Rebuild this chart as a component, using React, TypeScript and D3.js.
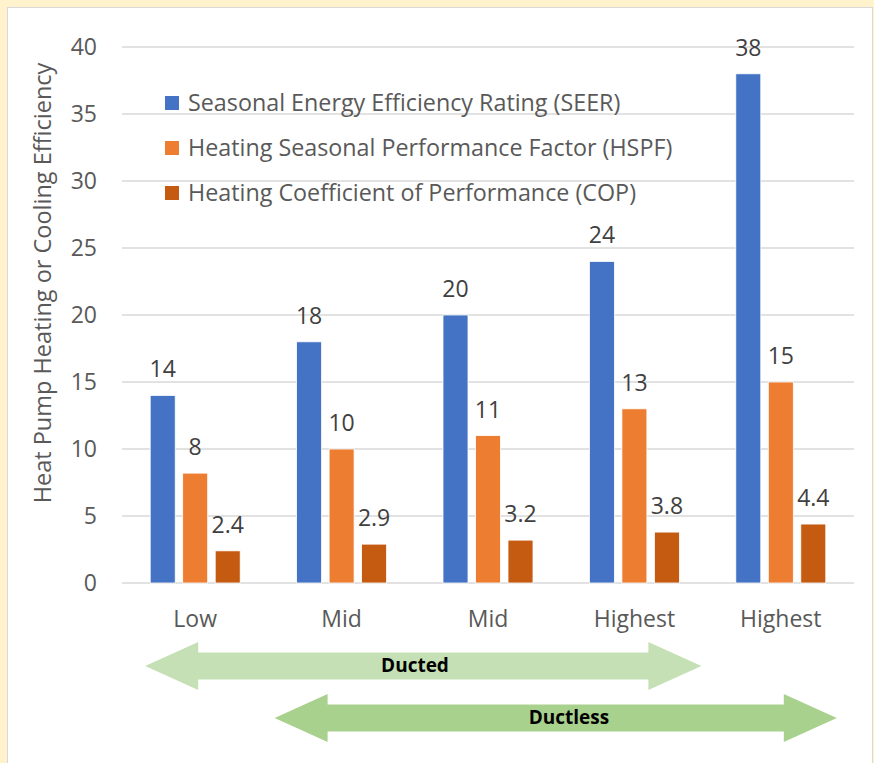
import React from "react";
import * as d3 from "d3";

const categories = ["Low", "Mid", "Mid", "Highest", "Highest"];
const seriesNames = [
  "Seasonal Energy Efficiency Rating (SEER)",
  "Heating Seasonal Performance Factor (HSPF)",
  "Heating Coefficient of Performance (COP)",
];
const seer = [14, 18, 20, 24, 38];
const hspf = [8.2, 10, 11, 13, 15];
const cop = [2.4, 2.9, 3.2, 3.8, 4.4];
const seerLabels = ["14", "18", "20", "24", "38"];
const hspfLabels = ["8", "10", "11", "13", "15"];
const copLabels = ["2.4", "2.9", "3.2", "3.8", "4.4"];
const yTicks = [0, 5, 10, 15, 20, 25, 30, 35, 40];
const colors = ["#4472C4", "#ED7D31", "#C55A11"];
const yTitle = "Heat Pump Heating or Cooling Efficiency";
const arrows = [
  { label: "Ducted", from: 0, to: 3, fill: "#C5E0B4" },
  { label: "Ductless", from: 1, to: 4, fill: "#A9D18E" },
];

const W = 874;
const H = 763;
const FONT = "'Open Sans', 'Noto Sans', sans-serif";

export default function App() {
  const left = 122;
  const right = 854;
  const top = 47;
  const bottom = 583;
  const x = d3.scaleBand<number>().domain(d3.range(categories.length)).range([left, right]);
  const y = d3.scaleLinear().domain([0, 40]).range([bottom, top]);
  const barW = 25;
  const step = 32.5;
  const series = [seer, hspf, cop];
  const labels = [seerLabels, hspfLabels, copLabels];
  const fs = 23;

  const arrowPath = (x0: number, x1: number, cy: number) => {
    const hh = 24;
    const sh = 13.5;
    const hl = 53;
    return `M${x0},${cy} L${x0 + hl},${cy - hh} L${x0 + hl},${cy - sh} L${x1 - hl},${cy - sh} L${x1 - hl},${cy - hh} L${x1},${cy} L${x1 - hl},${cy + hh} L${x1 - hl},${cy + sh} L${x0 + hl},${cy + sh} L${x0 + hl},${cy + hh} Z`;
  };

  return (
    <div style={{ position: "absolute", left: 0, top: 0 }}>
      <svg width={W} height={H} style={{ display: "block" }} fontFamily={FONT}>
        <rect x={0} y={0} width={W} height={H} fill="#FFF2CC" />
        <rect x={7.5} y={7.5} width={865} height={H} fill="#FFFFFF" stroke="#D9D9D9" strokeWidth={1} />
        {yTicks.map((t) => (
          <line key={t} x1={left} x2={right} y1={y(t)} y2={y(t)} stroke="#D9D9D9" strokeWidth={1.3} />
        ))}
        {yTicks.map((t) => (
          <text key={"yt" + t} x={97} y={y(t)} dy="0.35em" textAnchor="end" fontSize={fs} fill="#595959">
            {t}
          </text>
        ))}
        <text
          transform={`translate(43,283) rotate(-90)`}
          textAnchor="middle"
          dy="0.35em"
          fontSize={23.5}
          fill="#595959"
        >
          {yTitle}
        </text>
        {series.map((vals, si) =>
          vals.map((v, ci) => {
            const cx = (x(ci) as number) + x.bandwidth() / 2 + (si - 1) * step;
            return (
              <g key={`b${si}-${ci}`}>
                <rect x={cx - barW / 2} y={y(v)} width={barW} height={bottom - y(v)} fill={colors[si]} stroke="#FFFFFF" strokeWidth={0.8} />
                <text x={cx} y={y(v) - 26} dy="0.35em" textAnchor="middle" fontSize={fs} fill="#404040">
                  {labels[si][ci]}
                </text>
              </g>
            );
          })
        )}
        {categories.map((c, i) => (
          <text key={"c" + i} x={(x(i) as number) + x.bandwidth() / 2} y={619} dy="0.35em" textAnchor="middle" fontSize={fs} fill="#595959">
            {c}
          </text>
        ))}
        {seriesNames.map((n, i) => (
          <g key={"l" + i} transform={`translate(165,${103 + i * 45})`}>
            <rect x={0} y={-7} width={14} height={14} fill={colors[i]} />
            <text x={23} y={0} dy="0.35em" fontSize={23.3} fill="#595959">
              {n}
            </text>
          </g>
        ))}
        {arrows.map((a, i) => {
          const x0 = (x(a.from) as number) + x.bandwidth() / 2 - (i === 0 ? 50 : 67);
          const x1 = (x(a.to) as number) + x.bandwidth() / 2 + (i === 0 ? 67 : 56);
          const cy = i === 0 ? 666 : 718;
          return (
            <g key={"a" + i}>
              <path d={arrowPath(x0, x1, cy)} fill={a.fill} />
              <text x={i === 0 ? 415 : 569} y={cy - 1} dy="0.35em" textAnchor="middle" fontSize={19} fontWeight="bold" fill="#000000">
                {a.label}
              </text>
            </g>
          );
        })}
      </svg>
    </div>
  );
}
